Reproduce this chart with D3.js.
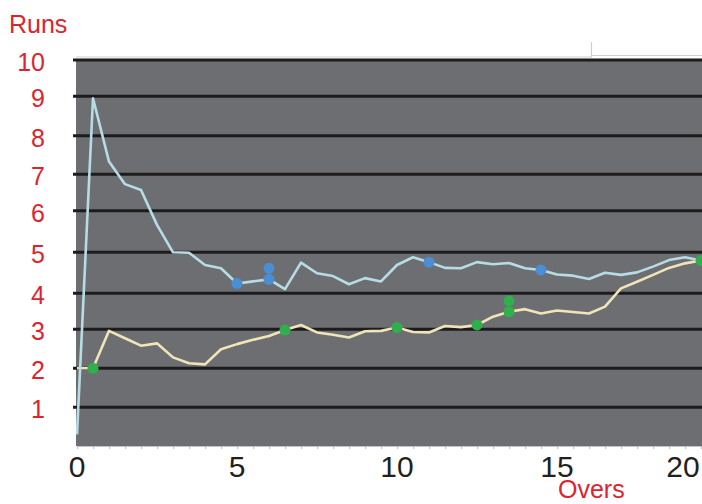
<!DOCTYPE html>
<html>
<head>
<meta charset="utf-8">
<script src="https://cdn.jsdelivr.net/npm/d3@7/dist/d3.min.js"></script>
<style>
  body { margin: 0; background: #ffffff; }
  svg { display: block; font-family: 'Liberation Sans', Arial, sans-serif; }
</style>
</head>
<body>
<div id="chart"></div>
<script>
/*------------------------------------------------------*/

/*
 * Data
 */

// Overs at which the run rate was recorded
const overs = [0, 0.5, 1, 1.5, 2, 2.5, 3, 3.5, 4, 4.5, 5, 5.5, 6, 6.5, 7, 7.5,
  8, 8.5, 9, 9.5, 10, 10.5, 11, 11.5, 12, 12.5, 13, 13.5, 14, 14.5, 15, 15.5,
  16, 16.5, 17, 17.5, 18, 18.5, 19, 19.5];

// Run rate of the first (light blue) innings
const blueRuns = [0.3, 8.95, 7.33, 6.73, 6.57, 5.66, 5.0, 4.99, 4.69, 4.61,
  4.24, 4.29, 4.34, 4.1, 4.75, 4.49, 4.42, 4.22, 4.37, 4.29,
  4.69, 4.88, 4.76, 4.62, 4.61, 4.76, 4.71, 4.74, 4.61, 4.57,
  4.46, 4.43, 4.35, 4.5, 4.45, 4.51, 4.65, 4.81, 4.88, 4.8];

// Run rate of the second (cream) innings
const creamRuns = [2.0, 2.0, 2.96, 2.77, 2.58, 2.64, 2.28, 2.13, 2.1, 2.49,
  2.62, 2.73, 2.83, 2.98, 3.12, 2.92, 2.86, 2.79, 2.95, 2.96,
  3.05, 2.93, 2.92, 3.09, 3.06, 3.12, 3.35, 3.49, 3.56, 3.44,
  3.52, 3.48, 3.44, 3.63, 4.12, 4.28, 4.45, 4.62, 4.73, 4.8];

// Wickets (dots) for each innings
const blueWicketOvers = [5, 6, 6, 11, 14.5];
const blueWicketRuns = [4.24, 4.34, 4.61, 4.76, 4.57];
const greenWicketOvers = [0.5, 6.5, 10, 12.5, 13.5, 13.5, 19.5];
const greenWicketRuns = [2.0, 2.98, 3.05, 3.12, 3.49, 3.79, 4.8];

// Tick labels
const yTickValues = [1, 2, 3, 4, 5, 6, 7, 8, 9, 10];
const xTickValues = [0, 5, 10, 15, 20];

/*------------------------------------------------------*/

/*
 * Variables
 */

const width = 702;
const height = 504;
const plot = { left: 76, right: 702, top: 60, bottom: 446 };

const red = '#dc2430';
const ink = '#231f20';

const svg = d3.select('#chart')
  .append('svg')
  .attr('width', width)
  .attr('height', height);

// Half an over every 16px, the last sample sits on the right edge
const x = d3.scaleLinear()
  .domain([0, 19.5])
  .range([plot.left + 1, plot.right - 1]);

// The printed grid is not evenly spaced, so the scale follows it
const y = d3.scaleLinear()
  .domain([0, 1, 2, 3, 4, 5, 6, 7, 8, 9, 10])
  .range([plot.bottom, 407.3, 368.3, 329.3, 293.3, 252.3, 210.7, 174.3, 135.7, 96.3, plot.top]);

/*------------------------------------------------------*/

/*
 * Background and grid
 */

svg.append('rect')
  .attr('x', plot.left)
  .attr('y', plot.top)
  .attr('width', plot.right - plot.left)
  .attr('height', plot.bottom - plot.top)
  .style('fill', '#6d6e71');

// Thin light frame above the plot
svg.append('path')
  .attr('d', 'M' + plot.left + ',57 H591.5 V42 M591.5,55.5 H' + width)
  .style('fill', 'none')
  .style('stroke', '#cfcfcf')
  .style('stroke-width', 1.2);

// Bottom axis with half-over ticks
svg.append('g')
  .attr('transform', 'translate(0,' + plot.bottom + ')')
  .call(d3.axisBottom(x).tickValues(overs).tickSize(3).tickSizeOuter(0).tickFormat(''))
  .call((g) => g.selectAll('path, line').style('stroke', '#c4c4c4').style('stroke-width', 1.2));

svg.append('g')
  .selectAll('line')
  .data(yTickValues)
  .enter().append('line')
  .attr('x1', plot.left - 3)
  .attr('x2', plot.right)
  .attr('y1', (d) => y(d))
  .attr('y2', (d) => y(d))
  .style('stroke', '#1d1b1c')
  .style('stroke-width', 3);

/*------------------------------------------------------*/

/*
 * Lines and wickets
 */

const line = d3.line()
  .x((d) => x(d[0]))
  .y((d) => y(d[1]));

svg.append('path')
  .datum(d3.zip(overs, creamRuns))
  .attr('d', line)
  .style('fill', 'none')
  .style('stroke', '#efe5b8')
  .style('stroke-width', 2.6)
  .style('stroke-linejoin', 'round');

svg.append('path')
  .datum(d3.zip(overs, blueRuns))
  .attr('d', line)
  .style('fill', 'none')
  .style('stroke', '#b7dce6')
  .style('stroke-width', 2.6)
  .style('stroke-linejoin', 'round');

svg.append('g')
  .selectAll('circle')
  .data(d3.zip(blueWicketOvers, blueWicketRuns))
  .enter().append('circle')
  .attr('cx', (d) => x(d[0]))
  .attr('cy', (d) => y(d[1]))
  .attr('r', 5.5)
  .style('fill', '#4a8ed4');

svg.append('g')
  .selectAll('circle')
  .data(d3.zip(greenWicketOvers, greenWicketRuns))
  .enter().append('circle')
  .attr('cx', (d) => x(d[0]))
  .attr('cy', (d) => y(d[1]))
  .attr('r', 5.5)
  .style('fill', '#2fb04c');

/*------------------------------------------------------*/

/*
 * Labels
 */

svg.append('g')
  .selectAll('text')
  .data(yTickValues)
  .enter().append('text')
  .attr('x', 45)
  .attr('y', (d) => y(d) + 11)
  .attr('text-anchor', 'end')
  .style('font-size', '25px')
  .style('fill', red)
  .text((d) => d);

// Keep the last label inside the picture
svg.append('g')
  .selectAll('text')
  .data(xTickValues)
  .enter().append('text')
  .attr('x', (d) => Math.min(x(d), width - 19))
  .attr('y', 477)
  .attr('text-anchor', 'middle')
  .style('font-size', '30px')
  .style('fill', ink)
  .text((d) => d);

svg.append('text')
  .attr('x', 9)
  .attr('y', 33)
  .style('font-size', '25px')
  .style('fill', red)
  .text('Runs');

svg.append('text')
  .attr('x', 558)
  .attr('y', 498)
  .style('font-size', '25px')
  .style('fill', red)
  .text('Overs');
</script>
</body>
</html>
